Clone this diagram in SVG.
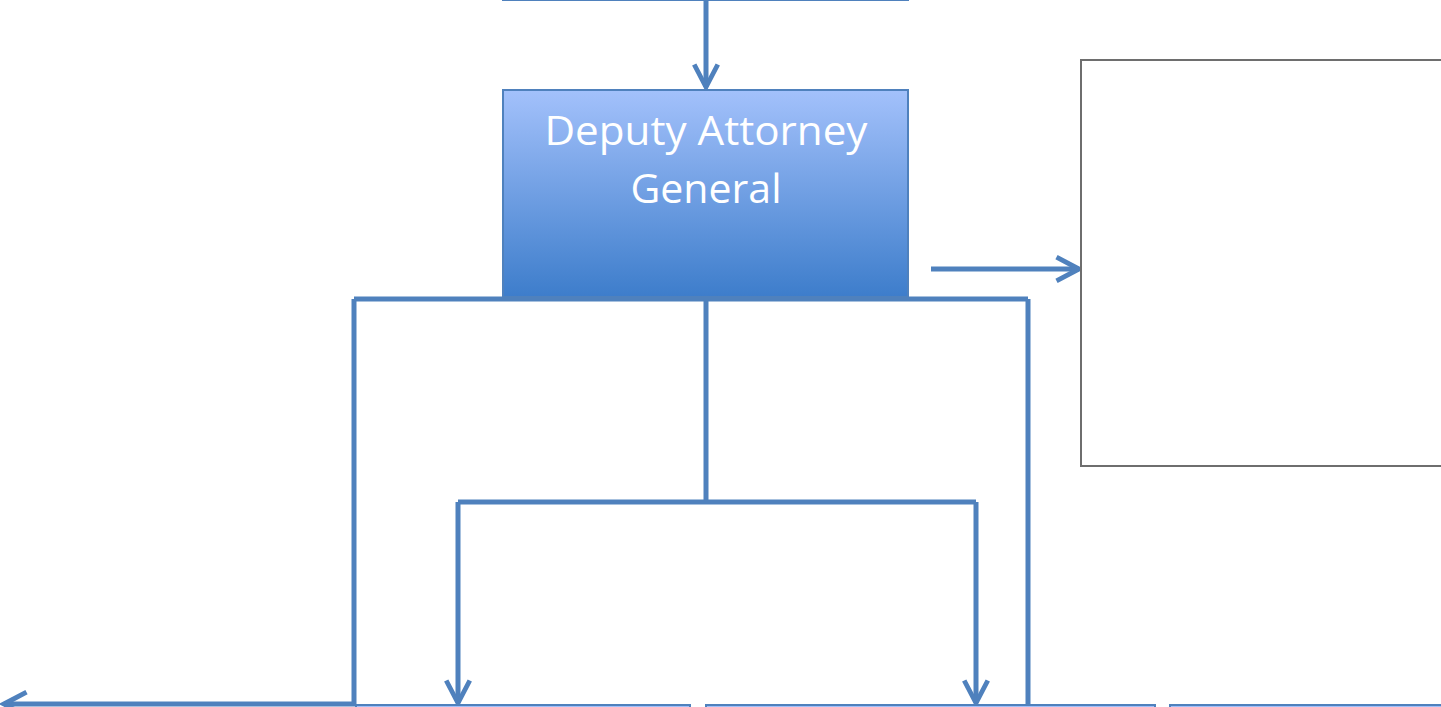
<svg xmlns="http://www.w3.org/2000/svg" width="1441" height="707" viewBox="0 0 1441 707">
  <defs>
    <linearGradient id="blueGrad" x1="0" y1="0" x2="0" y2="1">
      <stop offset="0" stop-color="#A3C1FB"/>
      <stop offset="1" stop-color="#3D7DCB"/>
    </linearGradient>
    <marker id="open" markerUnits="userSpaceOnUse" markerWidth="30" markerHeight="30" viewBox="-24 -14 28 28" refX="0" refY="0" orient="auto" overflow="visible">
      <path d="M-21,-11 L0,0 L-21,11" fill="none" stroke="#4F81BD" stroke-width="4.5"/>
    </marker>
    <style>
      .conn { fill: none; stroke: #4F81BD; stroke-width: 5; }
      .box { fill: url(#blueGrad); stroke: #4F81BD; stroke-width: 2; }
      .plain { fill: #FFFFFF; stroke: #6E6E6E; stroke-width: 2; }
      .lbl { fill: #FFFFFF; font-family: "Open Sans", "Liberation Sans", sans-serif; font-size: 41px; text-anchor: middle; }
    </style>
  </defs>
  <rect width="1441" height="707" fill="#FFFFFF"/>

  <g id="connectors">
    <line class="conn" x1="706" y1="0" x2="706" y2="87" marker-end="url(#open)"/>
    <polyline class="conn" points="354,299 1028,299"/>
    <polyline class="conn" points="354,299 354,704 4,704" marker-end="url(#open)"/>
    <polyline class="conn" points="1028,299 1028,710"/>
    <polyline class="conn" points="706,299 706,502"/>
    <polyline class="conn" points="458,502 976,502"/>
    <line class="conn" x1="458" y1="502" x2="458" y2="703" marker-end="url(#open)"/>
    <line class="conn" x1="976" y1="502" x2="976" y2="703" marker-end="url(#open)"/>
    <line class="conn" x1="931" y1="269" x2="1079" y2="269" marker-end="url(#open)"/>
  </g>

  <g id="node-top">
    <rect class="box" x="503" y="-200" width="405" height="200"/>
  </g>

  <g id="node-deputy">
    <rect class="box" x="503" y="90" width="405" height="207"/>
    <text class="lbl" x="706" y="145" textLength="323" lengthAdjust="spacingAndGlyphs">Deputy Attorney</text>
    <text class="lbl" x="706" y="203" textLength="151" lengthAdjust="spacingAndGlyphs">General</text>
  </g>

  <g id="node-right">
    <rect class="plain" x="1081" y="60" width="380" height="406"/>
  </g>

  <g id="node-bottom-1">
    <rect class="box" x="356" y="705" width="334" height="60"/>
  </g>
  <g id="node-bottom-2">
    <rect class="box" x="706" y="705" width="449" height="60"/>
  </g>
  <g id="node-bottom-3">
    <rect class="box" x="1170" y="705" width="300" height="60"/>
  </g>
</svg>
